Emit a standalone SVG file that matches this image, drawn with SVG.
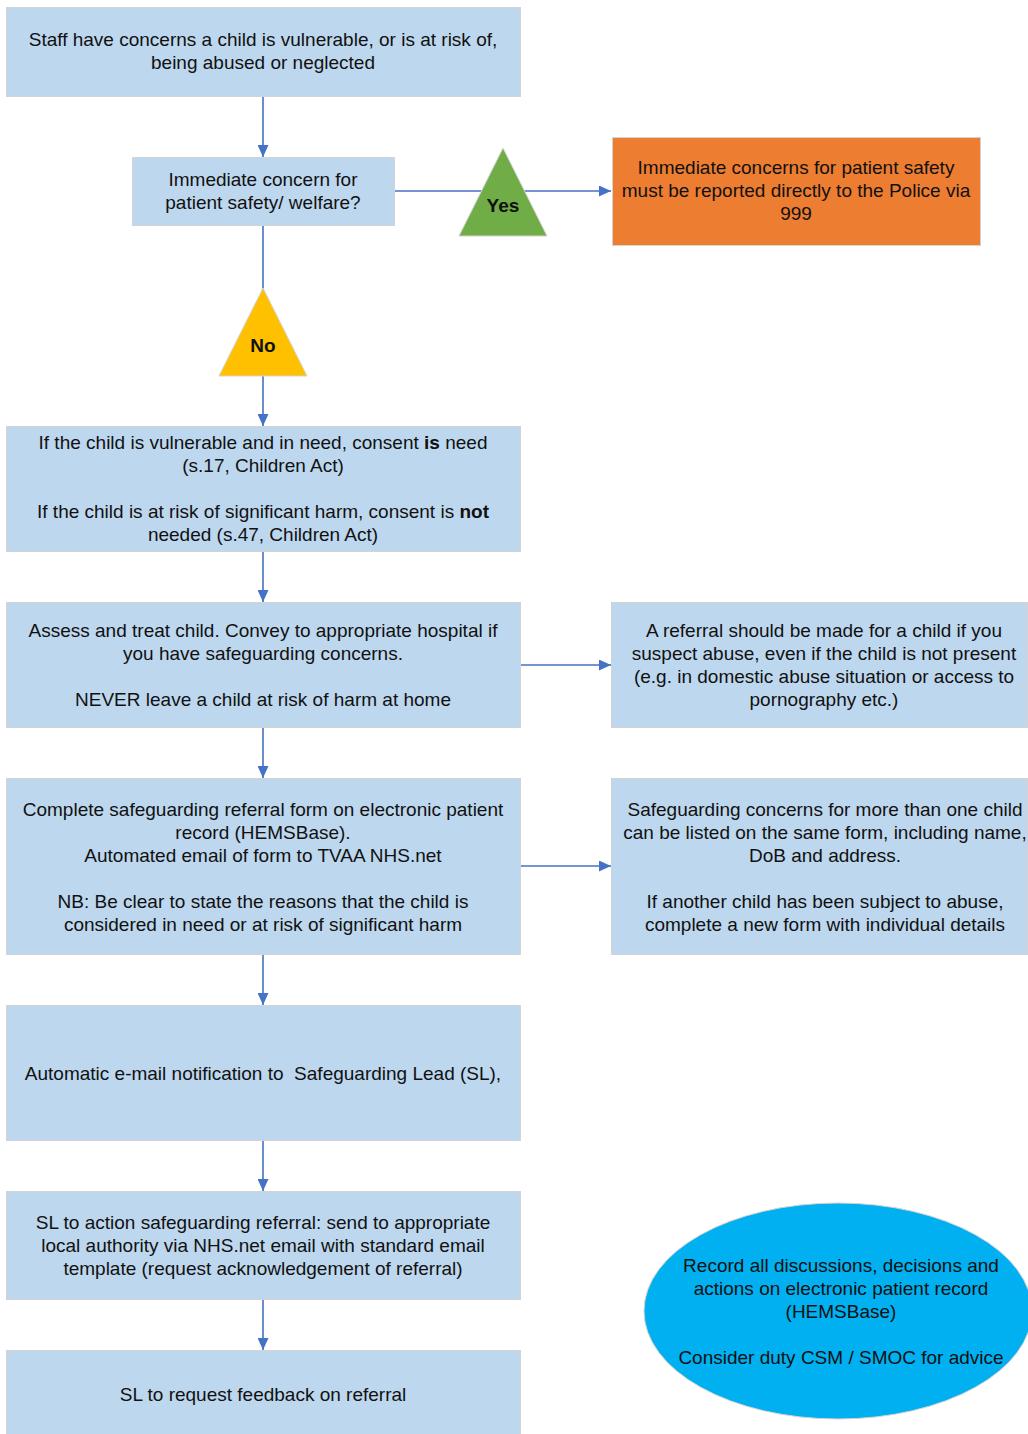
<svg xmlns="http://www.w3.org/2000/svg" width="1028" height="1434" viewBox="0 0 1028 1434">
<defs>
<style>
.box{fill:#BDD7EE;stroke:#D3D3D3;stroke-width:1}
.t{font-family:"Liberation Sans",Arial,sans-serif;font-size:19px;fill:#111;text-anchor:middle}
.b{font-weight:bold}
.c{stroke:#4472C4;stroke-width:1.6;fill:none}
</style>
<marker id="ah" viewBox="0 0 10 10" refX="10" refY="5" markerWidth="12" markerHeight="11" markerUnits="userSpaceOnUse" orient="auto" preserveAspectRatio="none"><path d="M0,0 L10,5 L0,10 z" fill="#4472C4"/></marker>
</defs>
<rect width="1028" height="1434" fill="#fff"/>
<g id="connectors">
<line class="c" x1="263" y1="96" x2="263" y2="157" marker-end="url(#ah)"/>
<line class="c" x1="263" y1="225" x2="263" y2="290"/>
<line class="c" x1="263" y1="376" x2="263" y2="426" marker-end="url(#ah)"/>
<line class="c" x1="394" y1="191" x2="611" y2="191" marker-end="url(#ah)"/>
<line class="c" x1="263" y1="551" x2="263" y2="602" marker-end="url(#ah)"/>
<line class="c" x1="263" y1="727" x2="263" y2="778" marker-end="url(#ah)"/>
<line class="c" x1="520" y1="665" x2="611" y2="665" marker-end="url(#ah)"/>
<line class="c" x1="263" y1="954" x2="263" y2="1005" marker-end="url(#ah)"/>
<line class="c" x1="520" y1="866" x2="611" y2="866" marker-end="url(#ah)"/>
<line class="c" x1="263" y1="1140" x2="263" y2="1191" marker-end="url(#ah)"/>
<line class="c" x1="263" y1="1299" x2="263" y2="1350" marker-end="url(#ah)"/>
</g>
<g id="n1"><rect class="box" x="6.5" y="7.5" width="514" height="89"/>
<text class="t" x="263" y="46">Staff have concerns a child is vulnerable, or is at risk of,</text>
<text class="t" x="263" y="69">being abused or neglected</text></g>
<g id="n2"><rect class="box" x="132.5" y="157.5" width="262" height="68"/>
<text class="t" x="263" y="186">Immediate concern for</text>
<text class="t" x="263" y="209">patient safety/ welfare?</text></g>
<g id="yes"><polygon points="503,148 547,236 459,236" fill="#70AD47" stroke="#D3D3D3" stroke-width="1"/>
<text class="t b" x="503" y="212">Yes</text></g>
<g id="police"><rect x="612.5" y="137.5" width="368" height="108" fill="#ED7D31" stroke="#D3D3D3" stroke-width="1"/>
<text class="t" x="796" y="174">Immediate concerns for patient safety</text>
<text class="t" x="796" y="197">must be reported directly to the Police via</text>
<text class="t" x="796" y="220">999</text></g>
<g id="no"><polygon points="263,288 307,376 219,376" fill="#FFC000" stroke="#D3D3D3" stroke-width="1"/>
<text class="t b" x="263" y="352">No</text></g>
<g id="n3"><rect class="box" x="6.5" y="426.5" width="514" height="125"/>
<text class="t" x="263" y="449">If the child is vulnerable and in need, consent <tspan class="b">is</tspan> need</text>
<text class="t" x="263" y="472">(s.17, Children Act)</text>
<text class="t" x="263" y="518">If the child is at risk of significant harm, consent is <tspan class="b">not</tspan></text>
<text class="t" x="263" y="541">needed (s.47, Children Act)</text></g>
<g id="n4"><rect class="box" x="6.5" y="602.5" width="514" height="125"/>
<text class="t" x="263" y="637">Assess and treat child. Convey to appropriate hospital if</text>
<text class="t" x="263" y="660">you have safeguarding concerns.</text>
<text class="t" x="263" y="706">NEVER leave a child at risk of harm at home</text></g>
<g id="r4"><rect class="box" x="611.5" y="602.5" width="416" height="125"/>
<text class="t" x="824" y="637">A referral should be made for a child if you</text>
<text class="t" x="824" y="660">suspect abuse, even if the child is not present</text>
<text class="t" x="824" y="683">(e.g. in domestic abuse situation or access to</text>
<text class="t" x="824" y="706">pornography etc.)</text></g>
<g id="n5"><rect class="box" x="6.5" y="778.5" width="514" height="176"/>
<text class="t" x="263" y="816">Complete safeguarding referral form on electronic patient</text>
<text class="t" x="263" y="839">record (HEMSBase).</text>
<text class="t" x="263" y="862">Automated email of form to TVAA NHS.net</text>
<text class="t" x="263" y="908">NB: Be clear to state the reasons that the child is</text>
<text class="t" x="263" y="931">considered in need or at risk of significant harm</text></g>
<g id="r5"><rect class="box" x="611.5" y="778.5" width="416" height="176"/>
<text class="t" x="825" y="816">Safeguarding concerns for more than one child</text>
<text class="t" x="825" y="839">can be listed on the same form, including name,</text>
<text class="t" x="825" y="862">DoB and address.</text>
<text class="t" x="825" y="908">If another child has been subject to abuse,</text>
<text class="t" x="825" y="931">complete a new form with individual details</text></g>
<g id="n6"><rect class="box" x="6.5" y="1005.5" width="514" height="135"/>
<text class="t" x="263" y="1080" style="white-space:pre">Automatic e-mail notification to  Safeguarding Lead (SL),</text></g>
<g id="n7"><rect class="box" x="6.5" y="1191.5" width="514" height="108"/>
<text class="t" x="263" y="1229">SL to action safeguarding referral: send to appropriate</text>
<text class="t" x="263" y="1252">local authority via NHS.net email with standard email</text>
<text class="t" x="263" y="1275">template (request acknowledgement of referral)</text></g>
<g id="n8"><rect class="box" x="6.5" y="1350.5" width="514" height="84"/>
<text class="t" x="263" y="1401">SL to request feedback on referral</text></g>
<g id="record"><ellipse cx="838" cy="1311" rx="194" ry="108" fill="#00B0F0" stroke="#D3D3D3" stroke-width="1"/>
<text class="t" x="841" y="1272">Record all discussions, decisions and</text>
<text class="t" x="841" y="1295">actions on electronic patient record</text>
<text class="t" x="841" y="1318">(HEMSBase)</text>
<text class="t" x="841" y="1364">Consider duty CSM / SMOC for advice</text></g>
</svg>
